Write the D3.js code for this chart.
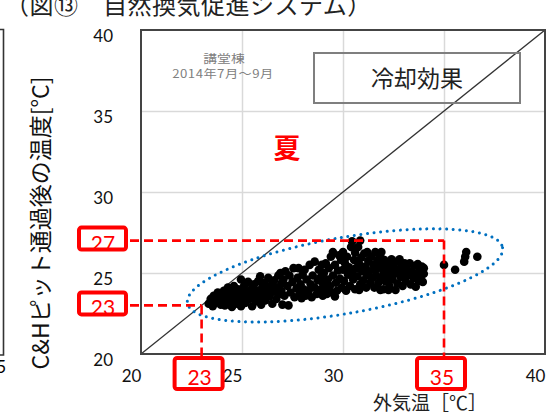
<!DOCTYPE html>
<html>
<head>
<meta charset="utf-8">
<script src="https://cdn.jsdelivr.net/npm/d3@7/dist/d3.min.js"></script>
<style>
  html, body { margin: 0; padding: 0; background: #fff; }
  svg { display: block; }
</style>
</head>
<body>
<svg id="chart" width="550" height="415"></svg>
<script>
// Axis tick labels (°C); 35 on the x axis is shown by its tag
const xTicks = [20, 25, 30, 40];
const yTicks = [20, 25, 30, 35, 40];
const gridTicks = [25, 30, 35];

// Reference temperatures marked with dashed guides
const markOutside = [23, 35];
const markAfterPit = [23, 27];

// Hourly readings, July–September 2014: [outside air °C, air after C&H pit °C]
const readings = [
  [23.35,23.1],[23.45,23.4],[23.55,22.95],[23.6,23.6],[23.7,23.2],[23.8,23.8],[23.85,23.45],[23.95,23.05],[23.9,23.65],
  [24.05,23.3],[24.1,23.9],[24.15,23.0],[24.25,23.6],[24.3,24.1],[24.35,23.2],[24.45,23.8],[24.5,22.9],[24.55,23.45],
  [24.6,24.2],[24.7,23.1],[24.75,23.7],[24.8,24.0],[24.9,23.35],[24.95,24.6],[24.95,22.95],[25.0,23.9],
  [25.05,23.55],[25.1,24.2],[25.15,23.15],[25.25,23.8],[25.3,24.45],[25.35,23.4],[25.45,24.0],[25.5,22.95],[25.55,23.65],
  [25.6,24.3],[25.7,23.25],[25.75,23.9],[25.8,24.5],[25.85,23.5],[25.9,24.8],[25.95,23.05],[26.0,24.1],
  [26.05,23.7],[26.1,24.4],[26.15,23.3],[26.25,24.0],[26.3,24.7],[26.35,23.55],[26.45,24.25],[26.5,23.1],[26.55,23.85],
  [26.6,24.55],[26.7,23.4],[26.75,24.1],[26.8,24.85],[26.85,23.7],[26.9,25.0],[26.95,24.35],[27.0,23.05],[26.95,23.9],
  [27.05,24.6],[27.1,23.6],[27.15,25.1],[27.25,24.2],[27.3,23.0],[27.35,24.85],[27.4,23.8],[27.5,24.45],[27.55,25.3],
  [27.6,23.5],[27.7,24.05],[27.75,24.7],[27.8,25.3],[27.85,23.7],[27.9,24.3],[27.95,23.45],[28.0,24.9],
  [28.05,24.0],[28.1,25.2],[28.15,23.6],[28.2,24.6],[28.3,23.9],[28.35,25.5],[28.4,24.3],[28.45,23.5],[28.5,24.85],
  [28.6,25.7],[28.6,24.1],[28.7,23.7],[28.75,24.55],[28.8,25.2],[28.85,23.95],[28.9,24.75],[28.95,25.5],[29.0,23.6],[29.0,24.35],
  [29.05,25.0],[29.1,24.0],[29.15,25.6],[29.2,23.7],[29.25,24.6],[29.3,25.3],[29.35,24.2],[29.4,26.0],[29.45,23.8],
  [29.5,26.3],[29.5,24.85],[29.6,25.5],[29.65,24.4],[29.7,23.9],[29.75,25.15],[29.8,26.1],[29.85,24.65],[29.9,25.8],
  [29.95,24.1],[30.0,26.3],[30.0,25.2],[29.6,23.55],
  [30.05,24.5],[30.1,25.6],[30.15,23.9],[30.2,26.0],[30.25,24.9],[30.3,25.35],[30.35,24.2],[30.4,26.6],[30.45,26.95],
  [30.45,25.0],[30.5,24.6],[30.55,25.8],[30.6,26.25],[30.6,24.0],[30.65,25.3],[30.7,24.8],[30.75,26.6],[30.85,27.0],
  [30.8,25.55],[30.85,24.3],[30.9,25.95],[30.95,25.1],[31.0,24.55],[30.8,23.95],
  [31.05,26.2],[31.1,25.4],[31.15,24.1],[31.2,26.3],[31.2,24.85],[31.25,25.75],[31.3,25.1],[31.35,24.4],[31.4,26.0],
  [31.45,24.7],[31.5,25.5],[31.55,24.1],[31.6,26.3],[31.6,25.2],[31.65,24.85],[31.7,25.8],[31.75,24.4],[31.8,25.35],
  [31.85,26.0],[31.9,26.3],[31.9,24.7],[31.95,25.55],[32.0,24.0],[32.0,25.1],[31.85,23.95],
  [32.05,25.8],[32.1,24.5],[32.15,25.35],[32.2,24.85],[32.25,25.6],[32.3,24.2],[32.35,25.1],[32.4,25.85],[32.45,24.6],
  [32.5,25.4],[32.55,24.95],[32.6,23.95],[32.65,25.7],[32.7,24.35],[32.75,25.2],[32.8,25.85],[32.85,24.75],[32.9,25.5],
  [32.95,24.2],[33.0,25.05],[32.25,23.95],
  [33.05,25.6],[33.1,24.5],[33.15,25.3],[33.2,24.85],[33.3,25.6],[33.35,24.3],[33.4,25.1],[33.5,24.7],[33.55,25.45],
  [33.6,24.15],[33.65,24.95],[33.7,25.55],[33.75,24.5],[33.8,25.2],[33.85,24.8],[33.9,25.4],[33.95,24.45],[34.0,24.95],[34.0,25.3],
  [35.0,25.5],[35.55,25.2],[36.0,25.7],[36.05,26.0],[36.1,26.3],[36.65,26.0]
];

// Cluster outline: centre in °C
const clusterCentre = [30.1, 24.85];

const jp = "'Noto Sans CJK JP', sans-serif";
const num = "Lato, 'Noto Sans', sans-serif";

const svg = d3.select("#chart");
const plot = { left: 141, right: 545, top: 30, bottom: 354 };

const x = d3.scaleLinear().domain([20, 40]).range([plot.left, plot.right]);
const y = d3.scaleLinear().domain([20, 40]).range([plot.bottom, plot.top]);

// Edge of the neighbouring figure
svg.append("path")
  .attr("d", "M0,29.5 H3.5 V355 H0")
  .attr("fill", "none").attr("stroke", "#333").attr("stroke-width", 1.6);
svg.append("text").attr("x", 6).attr("y", 373).attr("text-anchor", "end")
  .attr("font-family", num).attr("font-size", 17).text("5");

// Title line
svg.append("text")
  .attr("x", 5).attr("y", 14)
  .attr("font-family", jp).attr("font-size", 24).attr("letter-spacing", 0.5)
  .attr("fill", "#222")
  .text("（図⑬　自然換気促進システム）");

// Gridlines
svg.append("g")
  .attr("transform", `translate(0,${plot.bottom})`)
  .call(d3.axisBottom(x).tickValues(gridTicks).tickSize(-(plot.bottom - plot.top)).tickFormat(""))
  .call(g => g.select(".domain").remove())
  .call(g => g.selectAll("line").attr("stroke", "#d9d9d9").attr("stroke-width", 1.5));
svg.append("g")
  .attr("transform", `translate(${plot.left},0)`)
  .call(d3.axisLeft(y).tickValues(gridTicks).tickSize(-(plot.right - plot.left)).tickFormat(""))
  .call(g => g.select(".domain").remove())
  .call(g => g.selectAll("line").attr("stroke", "#d9d9d9").attr("stroke-width", 1.5));

// Equal-temperature line
svg.append("line")
  .attr("x1", x(20)).attr("y1", y(20)).attr("x2", x(40)).attr("y2", y(40))
  .attr("stroke", "#333").attr("stroke-width", 1.3);

// Readings
svg.append("g").selectAll("circle").data(readings).join("circle")
  .attr("cx", d => x(d[0])).attr("cy", d => y(d[1])).attr("r", 4.3)
  .attr("fill", "#000");

// Plot frame
svg.append("rect")
  .attr("x", plot.left).attr("y", plot.top)
  .attr("width", plot.right - plot.left).attr("height", plot.bottom - plot.top)
  .attr("fill", "none").attr("stroke", "#444").attr("stroke-width", 2);

// Dotted outline round the cluster
const cx = x(clusterCentre[0]), cy = y(clusterCentre[1]);
svg.append("ellipse")
  .attr("cx", cx).attr("cy", cy).attr("rx", 160).attr("ry", 38)
  .attr("transform", `rotate(-10 ${cx} ${cy})`)
  .attr("fill", "none").attr("stroke", "#0070c0").attr("stroke-width", 3)
  .attr("stroke-linecap", "round").attr("stroke-dasharray", "0 6.6");

// Axis tick labels
svg.append("g")
  .attr("transform", `translate(${plot.left},0)`)
  .call(d3.axisLeft(y).tickValues(yTicks).tickSize(0).tickPadding(28))
  .call(g => g.select(".domain").remove())
  .call(g => g.selectAll("text").attr("y", 6).attr("font-family", num).attr("font-size", 17).attr("fill", "#111"));
svg.append("g")
  .attr("transform", `translate(0,${plot.bottom})`)
  .call(d3.axisBottom(x).tickValues(xTicks).tickSize(0).tickPadding(16))
  .call(g => g.select(".domain").remove())
  .call(g => g.selectAll("text").attr("x", -10).attr("font-family", num).attr("font-size", 17).attr("fill", "#111"));

// Dashed guides
const red = "#ff0000";
const guides = svg.append("g").attr("stroke", red).attr("stroke-width", 2.6)
  .attr("stroke-dasharray", "9 5").attr("fill", "none");
const maxY = d3.max(markAfterPit), maxX = d3.max(markOutside);
guides.append("line").attr("x1", 130).attr("x2", x(maxX)).attr("y1", y(maxY)).attr("y2", y(maxY));
guides.append("line").attr("x1", x(maxX)).attr("x2", x(maxX)).attr("y1", y(maxY)).attr("y2", 356);
const minY = d3.min(markAfterPit), minX = d3.min(markOutside);
guides.append("line").attr("x1", 130).attr("x2", x(minX)).attr("y1", y(minY)).attr("y2", y(minY));
guides.append("line").attr("x1", x(minX)).attr("x2", x(minX)).attr("y1", y(minY)).attr("y2", 356);

// Value tags
function tag(bx, by, w, h, label, tx, ty) {
  svg.append("rect").attr("x", bx).attr("y", by).attr("width", w).attr("height", h).attr("rx", 2.5)
    .attr("fill", "#fff").attr("stroke", red).attr("stroke-width", 4);
  svg.append("text").attr("x", tx).attr("y", ty).attr("text-anchor", "middle")
    .attr("font-family", num).attr("font-size", 21).attr("fill", red).text(label);
}
markAfterPit.forEach(v => {
  const py = y(v);
  tag(79, py - 13, 47, 22, v, 103, py + 10);
});
markOutside.forEach(v => {
  const px = x(v);
  tag(px - 27, 358, 48, 31, v, px - 2, 385);
});

// Axis titles
svg.append("text")
  .attr("transform", "translate(49,223) rotate(-90)")
  .attr("text-anchor", "middle")
  .attr("font-family", jp).attr("font-size", 23).attr("fill", "#111")
  .text("C&Hピット通過後の温度[°C]");
svg.append("text")
  .attr("x", 430).attr("y", 410).attr("text-anchor", "middle")
  .attr("font-family", jp).attr("font-size", 19).attr("fill", "#222")
  .text("外気温［℃］");

// In-plot annotations
svg.append("text").attr("transform", "translate(224,63) scale(1.2,1)").attr("text-anchor", "middle")
  .attr("font-family", jp).attr("font-size", 11.5).attr("fill", "#808080").text("講堂棟");
svg.append("text").attr("transform", "translate(223,78) scale(1.15,1)").attr("text-anchor", "middle")
  .attr("font-family", jp).attr("font-size", 11.5).attr("letter-spacing", 0.4).attr("fill", "#808080")
  .text("2014年7月～9月");

svg.append("rect").attr("x", 314).attr("y", 53).attr("width", 206).attr("height", 50)
  .attr("fill", "none").attr("stroke", "#7f7f7f").attr("stroke-width", 2);
svg.append("text").attr("x", 417).attr("y", 87).attr("text-anchor", "middle")
  .attr("font-family", jp).attr("font-size", 23).attr("fill", "#222").text("冷却効果");

svg.append("text").attr("x", 287).attr("y", 158).attr("text-anchor", "middle")
  .attr("font-family", jp).attr("font-weight", "bold").attr("font-size", 27).attr("fill", red).text("夏");
</script>
</body>
</html>
